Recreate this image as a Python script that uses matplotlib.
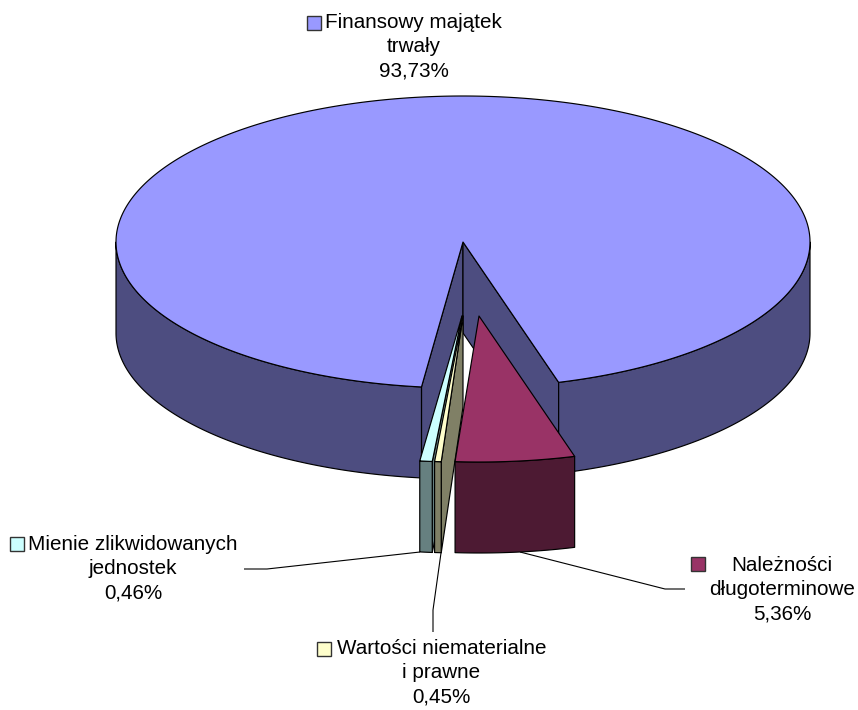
import numpy as np
import matplotlib
matplotlib.use("Agg")
import matplotlib.pyplot as plt
from matplotlib.patches import Polygon, Rectangle

plt.rcParams['font.family'] = ['Liberation Sans', 'DejaVu Sans']

categories = ["Finansowy majątek\ntrwały", "Należności\ndługoterminowe",
              "Wartości niematerialne\ni prawne", "Mienie zlikwidowanych\njednostek"]
values = [93.73, 5.36, 0.45, 0.46]
value_labels = ["93,73%", "5,36%", "0,45%", "0,46%"]

top_colors = ["#9999FF", "#993366", "#FFFFCC", "#CCFFFF"]
wall_colors = ["#4D4D80", "#4D1A33", "#808066", "#668080"]

CX, CY, RX, RY, DEPTH = 463, 242, 347, 146, 91
START = 16.0  # main slice's clockwise end, degrees to the right of straight down
OFFS = [(0, 0), (16, 74), (0, 74), (-1, 74)]
# small per-slice edge nudges (degrees) for the renderer's rounding in the original
NUDGE = [(0, -0.3), (0, -0.66), (-0.3, 0.22), (0, -0.42)]
LW = 0.85

fig = plt.figure(figsize=(8.58, 7.10), dpi=100)
ax = fig.add_axes([0, 0, 1, 1])
ax.set_xlim(0, 858)
ax.set_ylim(710, 0)
ax.axis("off")


def rim(a0, a1, off, n=200):
    t = np.radians(np.linspace(a0, a1, n))
    return np.column_stack([CX + off[0] + RX * np.sin(t), CY + off[1] + RY * np.cos(t)])


def poly(pts, fc, z):
    ax.add_patch(Polygon(pts, closed=True, fc=fc, ec="black", lw=LW, joinstyle="round", zorder=z))


def wall(arc, fc, z):
    poly(np.vstack([arc, (arc + [0, DEPTH])[::-1]]), fc, z)


# angular spans: positive angle = right of straight down; slices run clockwise on screen
spans = []
a = START
for i, v in enumerate(values[1:], start=1):
    b = a - v * 3.6
    spans.append((a + NUDGE[i][0], b + NUDGE[i][1]))
    a = b
main_left, main_right = a + NUDGE[0][1], START

# main slice: inner walls, outer front walls, top face
apex = np.array([CX, CY], float)
for ang in (main_left, main_right):
    e = rim(ang, ang, (0, 0), 1)
    wall(np.vstack([apex, e]), wall_colors[0], 1)
wall(rim(-90, main_left, (0, 0)), wall_colors[0], 2)
wall(rim(main_right, 90, (0, 0)), wall_colors[0], 2)
arc = rim(main_right, 360 + main_left, (0, 0), 800)
poly(np.vstack([apex, arc]), top_colors[0], 3)

# exploded slices, back to front: Mienie, Wartosci, Naleznosci
z = 4
for i in (3, 2, 1):
    a0, a1 = spans[i - 1]
    off = OFFS[i]
    ap = np.array([CX + off[0], CY + off[1]], float)
    arc = rim(a1, a0, off, 40)
    if a0 < 0:  # right cut face turns to the viewer only left of centre
        wall(np.vstack([ap, arc[-1]]), wall_colors[i], z)
    wall(arc, wall_colors[i], z + 1)
    poly(np.vstack([ap, arc]), top_colors[i], z + 2)
    z += 3

# leader lines
leaders = [
    ([244, 267, 420], [569, 569, 552]),
    ([433, 433, 441], [632, 610, 553]),
    ([520, 665, 685], [552, 589, 589]),
]
for xs, ys in leaders:
    ax.plot(xs, ys, color="black", lw=0.8, zorder=0, solid_capstyle="butt")

# labels
FS = 14.85
labels = [(413.5, 47, 0), (782, 589.5, 1), (441.5, 673, 2), (133, 568.5, 3)]
for x, y, i in labels:
    ax.text(x, y, categories[i] + "\n" + value_labels[i], ha="center", va="center",
            fontsize=FS, linespacing=1.35, color="black", zorder=20)

# legend keys
keys = [(307, 16, 0), (691, 557, 1), (317, 642, 2), (10, 537, 3)]
for x, y, i in keys:
    ax.add_patch(Rectangle((x, y), 13.5, 13.5, fc=top_colors[i], ec="#333333", lw=1.0, zorder=20))

fig.savefig("out.png", dpi=100)
